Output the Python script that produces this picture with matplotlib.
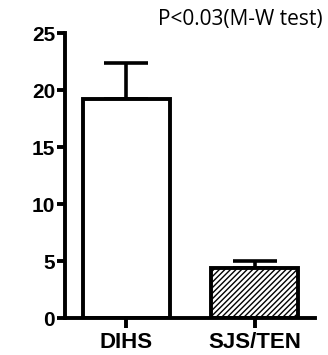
import matplotlib.pyplot as plt

groups = ["DIHS", "SJS/TEN"]
means = [19.2, 4.4]
errors = [3.2, 0.6]
yticks = [0, 5, 10, 15, 20, 25]

plt.rcParams['hatch.linewidth'] = 1.0

fig = plt.figure(figsize=(3.28, 3.55), dpi=100)
ax = fig.add_axes([0.198, 0.104, 0.762, 0.803])

x = list(range(len(groups)))
bars = ax.bar(x, means, width=0.68, color="white", edgecolor="black",
              linewidth=2.8, zorder=2)
bars[1].set_hatch("//////")
ax.errorbar(x, means, yerr=[[0, 0], errors], fmt="none", ecolor="black",
            elinewidth=2.6, capsize=16, capthick=2.6, zorder=1)

ax.set_xlim(-0.48, 1.47)
ax.set_ylim(0, 25)
ax.set_yticks(yticks)
ax.set_xticks(x)
ax.set_xticklabels(groups)

for side in ["top", "right"]:
    ax.spines[side].set_visible(False)
for side in ["left", "bottom"]:
    ax.spines[side].set_linewidth(2.8)

ax.tick_params(axis="y", length=6, width=2.8, labelsize=15, pad=1)
ax.tick_params(axis="x", length=7, width=2.8, labelsize=16, pad=3)
for lab in ax.get_yticklabels() + ax.get_xticklabels():
    lab.set_fontfamily("Liberation Sans")
    lab.set_fontweight("bold")

fig.text(0.985, 0.946, "P<0.03(M-W test)", ha="right", va="center",
         fontsize=15, fontfamily="Open Sans")

fig.savefig("out.png", dpi=100)
